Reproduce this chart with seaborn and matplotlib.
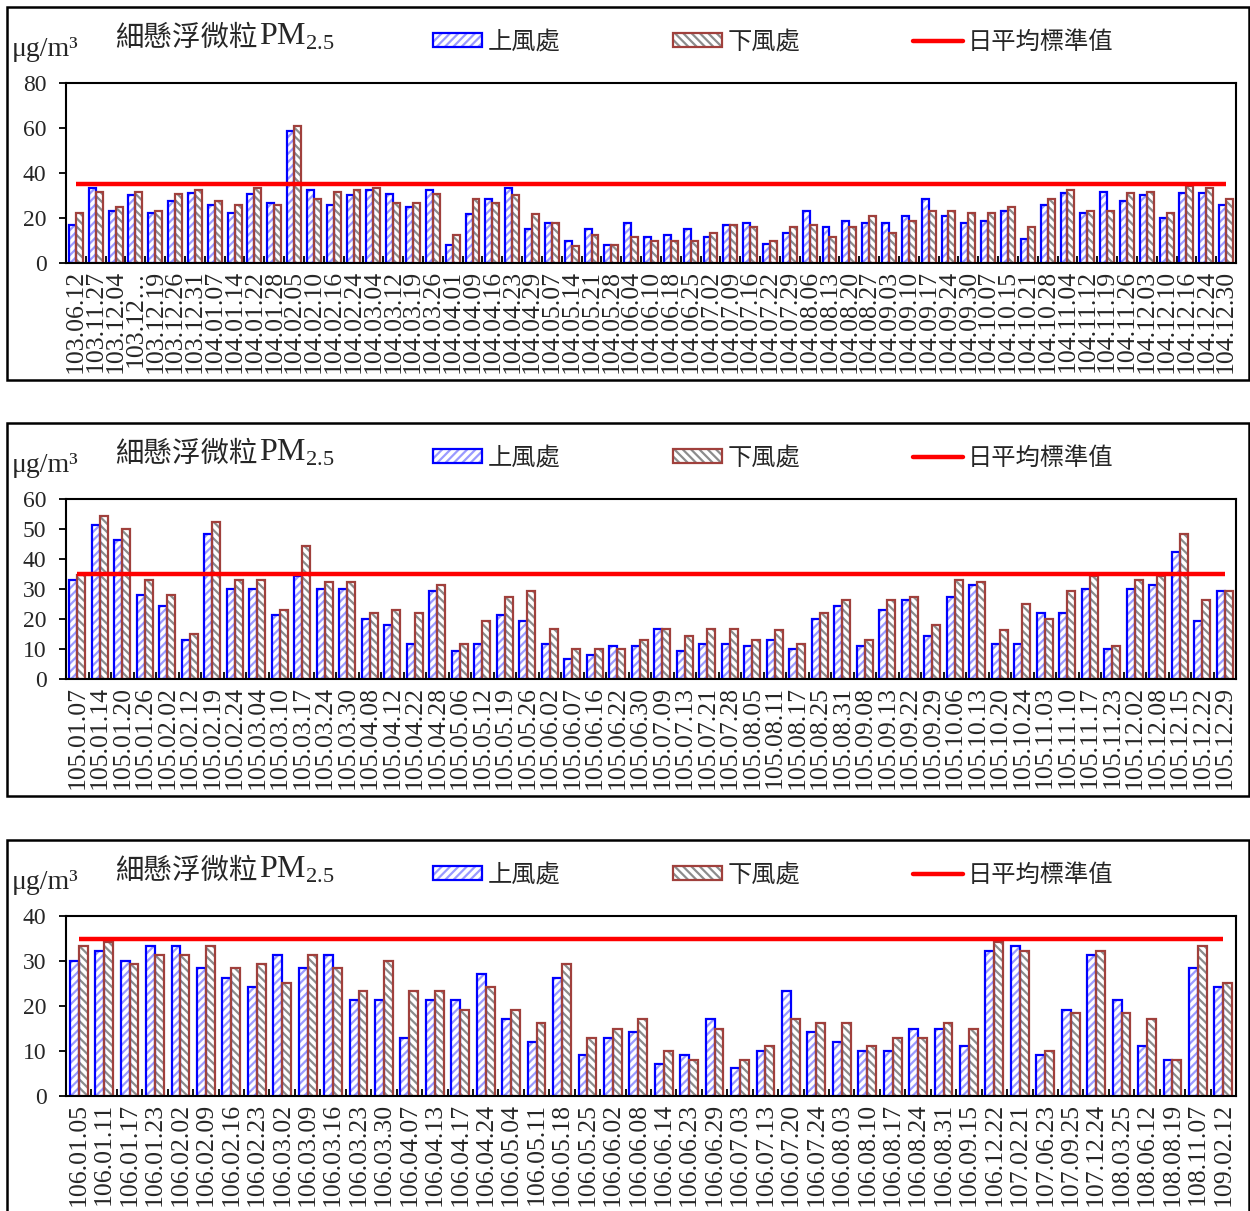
import matplotlib
matplotlib.use('Agg')
import pandas as pd
import matplotlib.pyplot as plt
import seaborn as sns
from matplotlib.patches import Rectangle, Patch
from matplotlib.lines import Line2D
from matplotlib.legend_handler import HandlerTuple
from matplotlib.ticker import FixedLocator, MultipleLocator

sns.set_style("white")
plt.rcParams['font.family'] = ['Liberation Serif', 'Noto Sans CJK TC']
plt.rcParams['mathtext.fontset'] = 'custom'
plt.rcParams['mathtext.rm'] = 'Liberation Serif'
plt.rcParams['hatch.linewidth'] = 1.6

# ---------------- data ----------------
SITES = ['上風處', '下風處']
STANDARD = 35

dates_1 = ['103.06.12', '103.11.27', '103.12.04', '103.12…', '103.12.19', '103.12.26', '103.12.31',
           '104.01.07', '104.01.14', '104.01.22', '104.01.28', '104.02.05', '104.02.10', '104.02.16',
           '104.02.24', '104.03.04', '104.03.12', '104.03.19', '104.03.26', '104.04.01', '104.04.09',
           '104.04.16', '104.04.23', '104.04.29', '104.05.07', '104.05.14', '104.05.21', '104.05.28',
           '104.06.04', '104.06.10', '104.06.18', '104.06.25', '104.07.02', '104.07.09', '104.07.16',
           '104.07.22', '104.07.29', '104.08.06', '104.08.13', '104.08.20', '104.08.27', '104.09.03',
           '104.09.10', '104.09.17', '104.09.24', '104.09.30', '104.10.07', '104.10.15', '104.10.21',
           '104.10.28', '104.11.04', '104.11.12', '104.11.19', '104.11.26', '104.12.03', '104.12.10',
           '104.12.16', '104.12.24', '104.12.30']
up_1 = [16.7, 33.4, 23.3, 30.1, 22.4, 27.5, 31.0, 26.0, 22.4, 30.7,
        26.6, 58.5, 32.5, 26.0, 30.1, 32.5, 30.7, 25.1, 32.5, 8.1,
        21.8, 28.4, 33.4, 14.9, 17.6, 9.9, 14.9, 8.1, 17.6, 11.6,
        12.5, 14.9, 11.6, 16.7, 17.6, 8.4, 13.4, 23.3, 15.8, 18.5,
        17.6, 17.6, 20.9, 28.4, 20.9, 17.6, 18.5, 23.3, 10.7, 26.0,
        30.9, 22.4, 31.6, 27.5, 30.1, 20.0, 30.9, 30.9, 26.0]
down_1 = [22.4, 31.6, 25.1, 31.6, 23.3, 30.7, 32.5, 27.5, 26.0, 33.4,
          26.0, 60.9, 28.4, 31.6, 32.5, 33.4, 26.6, 26.6, 30.7, 12.5,
          28.4, 26.6, 30.1, 21.8, 17.6, 7.5, 12.5, 8.1, 11.6, 9.9,
          9.9, 9.9, 13.4, 16.7, 15.8, 9.9, 15.8, 16.7, 11.6, 15.8,
          20.9, 13.4, 18.5, 23.3, 23.3, 22.4, 22.4, 25.1, 15.8, 28.4,
          32.5, 23.3, 23.3, 30.9, 31.6, 22.4, 34.2, 33.4, 28.4]

dates_2 = ['105.01.07', '105.01.14', '105.01.20', '105.01.26', '105.02.02', '105.02.12', '105.02.19',
           '105.02.24', '105.03.04', '105.03.10', '105.03.17', '105.03.24', '105.03.30', '105.04.08',
           '105.04.12', '105.04.22', '105.04.28', '105.05.06', '105.05.12', '105.05.19', '105.05.26',
           '105.06.02', '105.06.07', '105.06.16', '105.06.22', '105.06.30', '105.07.09', '105.07.13',
           '105.07.21', '105.07.28', '105.08.05', '105.08.11', '105.08.17', '105.08.25', '105.08.31',
           '105.09.08', '105.09.13', '105.09.22', '105.09.29', '105.10.06', '105.10.13', '105.10.20',
           '105.10.24', '105.11.03', '105.11.10', '105.11.17', '105.11.23', '105.12.02', '105.12.08',
           '105.12.15', '105.12.22', '105.12.29']
up_2 = [33.0, 51.3, 46.3, 28.1, 24.3, 13.0, 48.2, 30.0, 30.0, 21.2,
        34.3, 30.0, 30.0, 20.0, 18.1, 11.8, 29.3, 9.4, 11.8, 21.2,
        19.3, 11.8, 6.8, 8.1, 11.1, 11.1, 16.8, 9.4, 11.8, 11.8,
        11.1, 13.0, 9.9, 20.0, 24.3, 11.1, 23.1, 26.2, 14.3, 27.4,
        31.2, 11.8, 11.8, 21.9, 21.9, 30.0, 9.9, 30.0, 31.2, 42.5,
        19.3, 29.3]
down_2 = [34.7, 54.4, 50.0, 33.0, 28.1, 14.9, 52.5, 33.0, 33.0, 23.1,
          44.3, 32.4, 32.4, 21.9, 23.1, 21.9, 31.2, 11.8, 19.3, 27.4,
          29.3, 16.8, 9.9, 9.9, 9.9, 13.0, 16.8, 14.3, 16.8, 16.8,
          13.0, 16.2, 11.8, 21.9, 26.2, 13.0, 26.2, 27.4, 18.1, 33.0,
          32.4, 16.2, 24.9, 20.0, 29.3, 34.3, 11.1, 33.0, 34.3, 48.2,
          26.2, 29.3]

dates_3 = ['106.01.05', '106.01.11', '106.01.17', '106.01.23', '106.02.02', '106.02.09', '106.02.16',
           '106.02.23', '106.03.02', '106.03.09', '106.03.16', '106.03.23', '106.03.30', '106.04.07',
           '106.04.13', '106.04.17', '106.04.24', '106.05.04', '106.05.11', '106.05.18', '106.05.25',
           '106.06.02', '106.06.08', '106.06.14', '106.06.23', '106.06.29', '106.07.03', '106.07.13',
           '106.07.20', '106.07.24', '106.08.03', '106.08.10', '106.08.17', '106.08.24', '106.08.31',
           '106.09.15', '106.12.22', '107.02.21', '107.06.23', '107.09.25', '107.12.24', '108.03.25',
           '108.06.12', '108.08.19', '108.11.07', '109.02.12']
up_3 = [30.0, 32.2, 30.0, 33.4, 33.4, 28.4, 26.3, 24.2, 31.3, 28.4,
        31.3, 21.3, 21.3, 13.0, 21.3, 21.3, 27.2, 17.1, 12.1, 26.3,
        9.2, 13.0, 14.2, 7.1, 9.2, 17.1, 6.3, 10.0, 23.4, 14.2,
        12.1, 10.0, 10.0, 15.0, 15.0, 11.2, 32.2, 33.4, 9.2, 19.2,
        31.3, 21.3, 11.2, 7.9, 28.4, 24.2]
down_3 = [33.4, 34.3, 29.3, 31.3, 31.3, 33.4, 28.4, 29.3, 25.1, 31.3,
          28.4, 23.4, 30.0, 23.4, 23.4, 19.2, 24.2, 19.2, 16.3, 29.3,
          13.0, 15.0, 17.1, 10.0, 7.9, 15.0, 7.9, 11.2, 17.1, 16.3,
          16.3, 11.2, 13.0, 13.0, 16.3, 15.0, 34.3, 32.2, 10.0, 18.4,
          32.2, 18.4, 17.1, 7.9, 33.4, 25.1]

# ---------------- styles ----------------
EDGE = ['#0000ff', '#a0403c']
HATCH_COLOR = ['#9a9aff', '#8c8c8c']
HATCH = ['////', '\\\\\\\\']
W, H = 1250, 1211


def fx(x):
    return x / W


def fy(y):
    return 1 - y / H


fig = plt.figure(figsize=(W / 100, H / 100), dpi=100)

panels = [(7, dates_1, up_1, down_1, 80, 20),
          (423, dates_2, up_2, down_2, 60, 10),
          (840, dates_3, up_3, down_3, 40, 10)]

for top, dates, up, down, ymax, ystep in panels:
    ax_top, ax_bot = top + 76, top + 256
    ax = fig.add_axes([fx(66), fy(ax_bot), fx(1236) - fx(66), fy(ax_top) - fy(ax_bot)])
    n = len(dates)
    df = pd.DataFrame({'date': dates * 2,
                       'site': [SITES[0]] * n + [SITES[1]] * n,
                       'value': up + down})

    # hatched fill layer
    sns.barplot(data=df, x='date', y='value', hue='site', hue_order=SITES,
                palette=['white', 'white'], saturation=1, width=0.7,
                errorbar=None, linewidth=0, legend=False, ax=ax)
    for i, bar in enumerate(ax.patches):
        k = i // n
        bar.set_hatch(HATCH[k])
        bar.set_edgecolor(HATCH_COLOR[k])
        bar.set_linewidth(0)
    # outline layer
    sns.barplot(data=df, x='date', y='value', hue='site', hue_order=SITES,
                palette=EDGE, saturation=1, width=0.7, fill=False,
                errorbar=None, linewidth=1.6, legend=False, ax=ax)

    # daily average standard
    ax.hlines(STANDARD, 0, n - 1, color='#ff0000', lw=3.2, zorder=5)

    ax.set_xlim(-0.5, n - 0.5)
    ax.set_ylim(0, ymax)
    ax.yaxis.set_major_locator(MultipleLocator(ystep))
    ax.set_xlabel('')
    ax.set_ylabel('')
    ax.xaxis.set_minor_locator(FixedLocator([i - 0.5 for i in range(n + 1)]))
    ax.tick_params(axis='x', which='major', length=0, rotation=90, labelsize=18.5, pad=5)
    ax.tick_params(axis='x', which='minor', direction='in', length=5, width=1.3,
                   color='black', bottom=True)
    ax.tick_params(axis='y', which='major', direction='out', length=5, width=1.3,
                   labelsize=17, pad=9, left=True, color='black')
    for s in ax.spines.values():
        s.set_color('black')
        s.set_linewidth(1.5)

    # legend (hatched fill + coloured outline drawn on top of each other)
    h_up = (Patch(facecolor='white', edgecolor=HATCH_COLOR[0], hatch=HATCH[0], lw=0),
            Patch(facecolor='none', edgecolor=EDGE[0], lw=1.6))
    h_down = (Patch(facecolor='white', edgecolor=HATCH_COLOR[1], hatch=HATCH[1], lw=0),
              Patch(facecolor='none', edgecolor=EDGE[1], lw=1.6))
    h_std = Line2D([], [], color='#ff0000', lw=3.2)
    leg_y = 1 + (ax_top - (top + 35)) / (ax_bot - ax_top)
    ax.legend([h_up, h_down, h_std], SITES + ['日平均標準值'],
              handler_map={tuple: HandlerTuple(ndivide=1, pad=0)},
              ncol=3, loc='center left', bbox_to_anchor=((433 - 66) / 1170, leg_y),
              frameon=False, prop={'family': ['Noto Sans CJK TC'], 'size': 17.5},
              handlelength=2.02, handleheight=0.5, handletextpad=0.22,
              columnspacing=4.65, borderpad=0, borderaxespad=0)

    # title and unit
    fig.text(fx(115), fy(top + 39), '細懸浮微粒', family=['Noto Sans CJK TC'],
             fontsize=20.5, va='baseline', ha='left')
    fig.text(fx(259), fy(top + 38), r'PM$_{2.5}$', fontsize=23, va='baseline', ha='left')
    fig.text(fx(12), fy(top + 49), 'μg/m³', fontsize=20, va='baseline', ha='left')

    # panel border
    fig.add_artist(Rectangle((fx(7), fy(top + 373)), fx(1249) - fx(7), fy(top) - fy(top + 373),
                             transform=fig.transFigure, fill=False, lw=1.8, ec='black'))

fig.savefig('out.png', dpi=100)
